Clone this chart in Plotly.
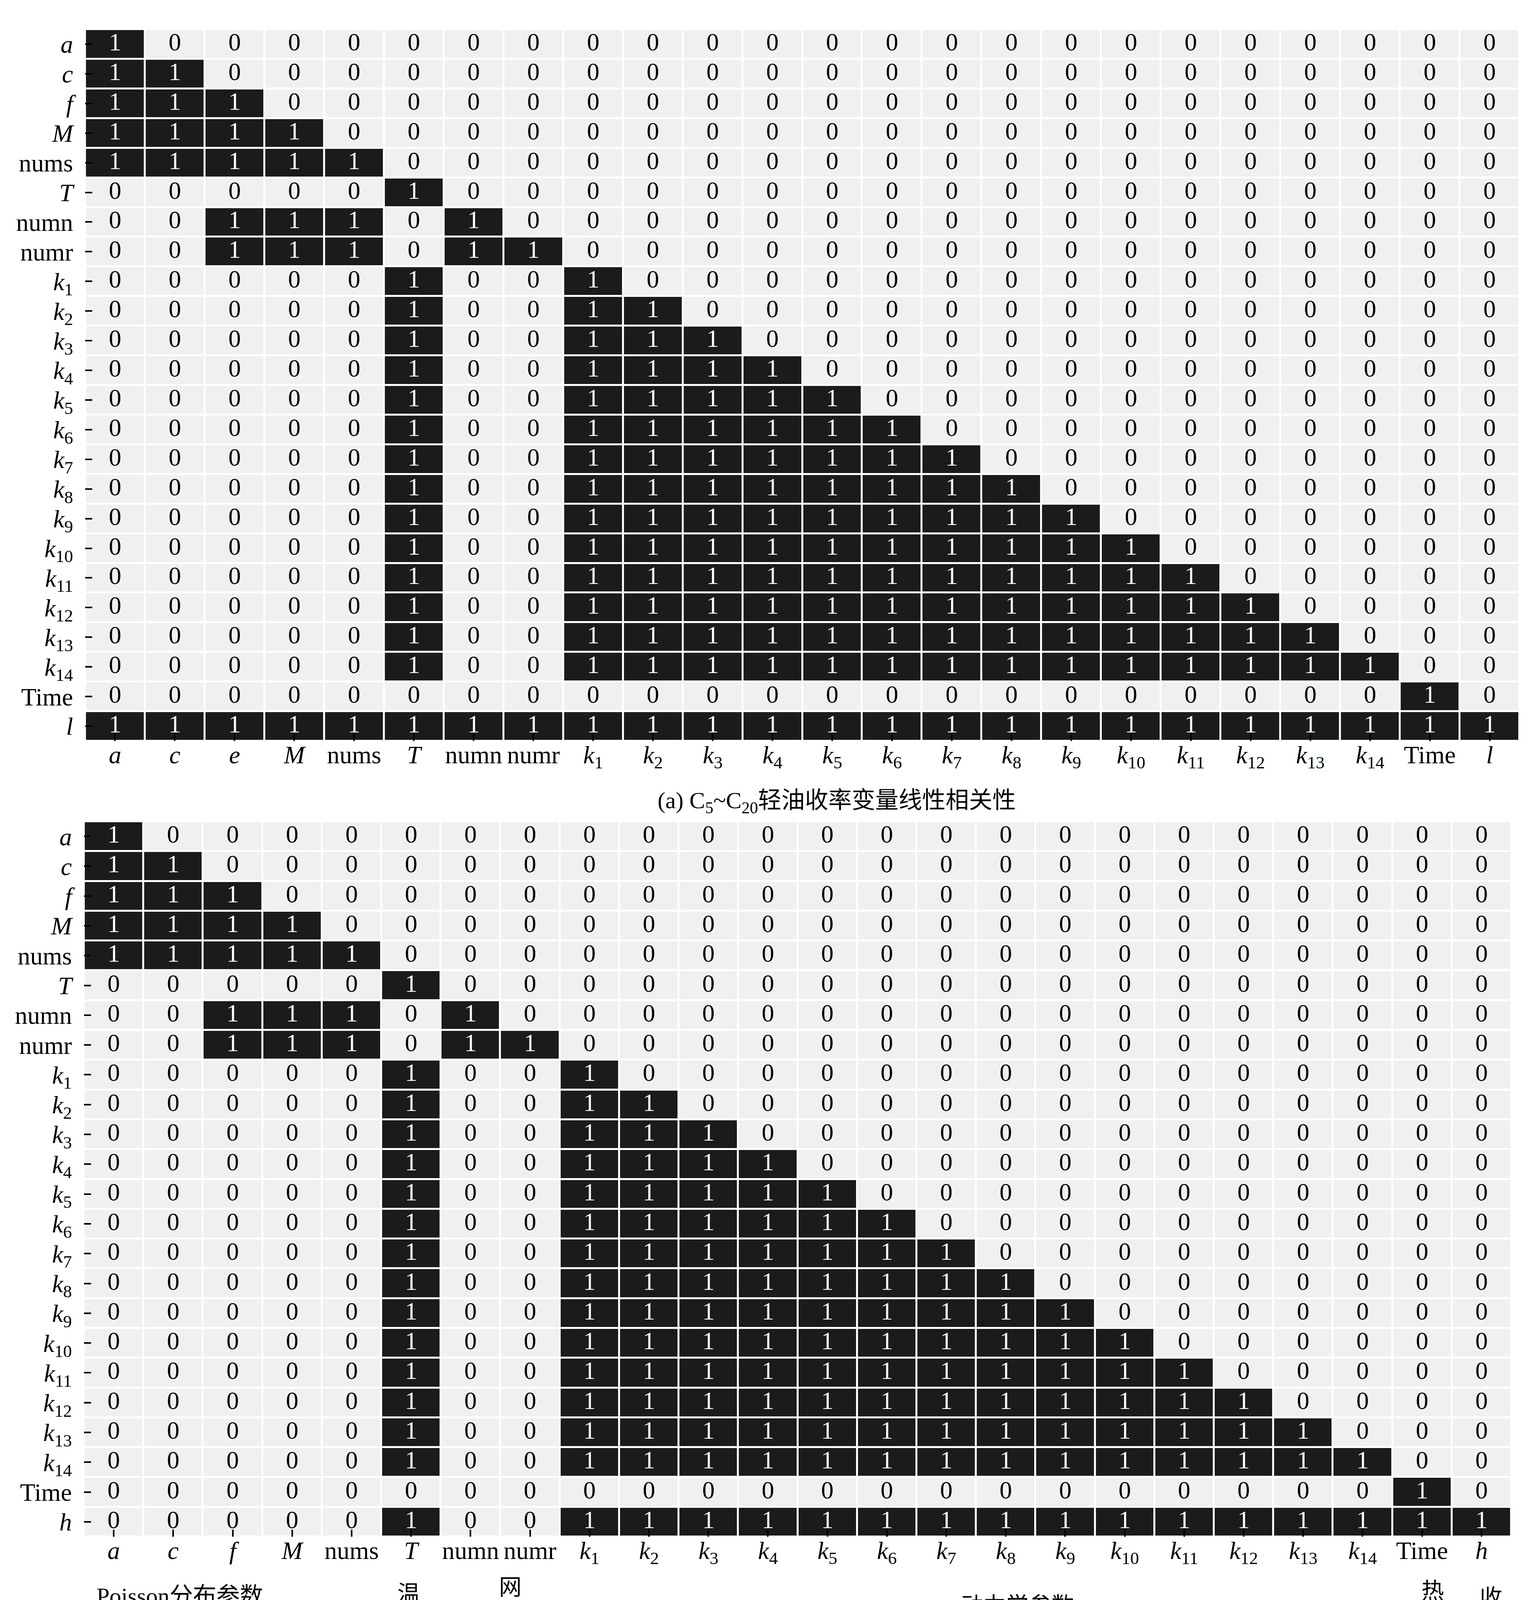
import plotly.graph_objects as go

W, H = 3939, 4416
OFF = 8  # page body margin offset

# ---------------- data ----------------
x_cats_a = ["a", "c", "e", "M", "nums", "T", "numn", "numr",
            "k1", "k2", "k3", "k4", "k5", "k6", "k7", "k8", "k9", "k10",
            "k11", "k12", "k13", "k14", "Time", "l"]
y_cats_a = ["a", "c", "f", "M", "nums", "T", "numn", "numr",
            "k1", "k2", "k3", "k4", "k5", "k6", "k7", "k8", "k9", "k10",
            "k11", "k12", "k13", "k14", "Time", "l"]
x_cats_b = ["a", "c", "f", "M", "nums", "T", "numn", "numr",
            "k1", "k2", "k3", "k4", "k5", "k6", "k7", "k8", "k9", "k10",
            "k11", "k12", "k13", "k14", "Time", "h"]
y_cats_b = ["a", "c", "f", "M", "nums", "T", "numn", "numr",
            "k1", "k2", "k3", "k4", "k5", "k6", "k7", "k8", "k9", "k10",
            "k11", "k12", "k13", "k14", "Time", "h"]

# one string per row (top to bottom), one character per column
rows_a = [
    "100000000000000000000000",  # a
    "110000000000000000000000",  # c
    "111000000000000000000000",  # f
    "111100000000000000000000",  # M
    "111110000000000000000000",  # nums
    "000001000000000000000000",  # T
    "001110100000000000000000",  # numn
    "001110110000000000000000",  # numr
    "000001001000000000000000",  # k1
    "000001001100000000000000",  # k2
    "000001001110000000000000",  # k3
    "000001001111000000000000",  # k4
    "000001001111100000000000",  # k5
    "000001001111110000000000",  # k6
    "000001001111111000000000",  # k7
    "000001001111111100000000",  # k8
    "000001001111111110000000",  # k9
    "000001001111111111000000",  # k10
    "000001001111111111100000",  # k11
    "000001001111111111110000",  # k12
    "000001001111111111111000",  # k13
    "000001001111111111111100",  # k14
    "000000000000000000000010",  # Time
    "111111111111111111111111",  # l
]
rows_b = [
    "100000000000000000000000",  # a
    "110000000000000000000000",  # c
    "111000000000000000000000",  # f
    "111100000000000000000000",  # M
    "111110000000000000000000",  # nums
    "000001000000000000000000",  # T
    "001110100000000000000000",  # numn
    "001110110000000000000000",  # numr
    "000001001000000000000000",  # k1
    "000001001100000000000000",  # k2
    "000001001110000000000000",  # k3
    "000001001111000000000000",  # k4
    "000001001111100000000000",  # k5
    "000001001111110000000000",  # k6
    "000001001111111000000000",  # k7
    "000001001111111100000000",  # k8
    "000001001111111110000000",  # k9
    "000001001111111111000000",  # k10
    "000001001111111111100000",  # k11
    "000001001111111111110000",  # k12
    "000001001111111111111000",  # k13
    "000001001111111111111100",  # k14
    "000000000000000000000010",  # Time
    "000001001111111111111111",  # h
]

caption_a = "(a) C<sub>5</sub>~C<sub>20</sub>轻油收率变量线性相关性"
caption_b = "(b) C<sub>21</sub>~C<sub>60</sub>重油收率变量线性相关性"
group_labels = ["Poisson分布参数", "温<br>度", "网<br>络<br>参<br>数",
                "动力学参数", "热<br>解<br>时<br>间", "收<br>率"]

SERIF = "Liberation Serif, Noto Sans CJK SC"
ITALIC = {"a", "c", "e", "f", "M", "T", "l", "h"}


def fmt(lbl):
    if lbl in ITALIC:
        return "<i>%s</i>" % lbl
    if lbl.startswith("k") and lbl[1:].isdigit():
        return "<i>k</i><sub>%s</sub>" % lbl[1:]
    return lbl


def px_x(p):
    return (p - OFF) / W


def px_y(p):
    return 1 - (p - OFF) / H


fig = go.Figure()


def add_panel(xc, yc, rows, xa, ya):
    z = [[int(ch) for ch in r] for r in rows]
    fig.add_trace(go.Heatmap(
        x=xc, y=yc, z=z, xaxis=xa, yaxis=ya,
        colorscale=[[0, "#f0f0f0"], [1, "#1b1b1b"]], zmin=0, zmax=1,
        showscale=False, xgap=5, ygap=5, hoverinfo="skip"))
    for val, col in ((0, "#000000"), (1, "#ffffff")):
        xs, ys = [], []
        for i, yy in enumerate(yc):
            for j, xx in enumerate(xc):
                if z[i][j] == val:
                    xs.append(xx)
                    ys.append(yy)
        fig.add_trace(go.Scatter(
            x=xs, y=ys, mode="text", text=[str(val)] * len(xs),
            xaxis=xa, yaxis=ya, hoverinfo="skip",
            textfont=dict(family=SERIF, size=64, color=col),
            textposition="middle center"))


add_panel(x_cats_a, y_cats_a, rows_a, "x", "y")
add_panel(x_cats_b, y_cats_b, rows_b, "x2", "y2")

tickfont = dict(family=SERIF, size=64, color="black")
common_x = dict(type="category", showgrid=False, zeroline=False, showline=False,
                ticks="inside", ticklen=18, tickwidth=4, tickcolor="black",
                tickfont=tickfont, ticklabelstandoff=-8)
common_y = dict(type="category", showgrid=False, zeroline=False, showline=False,
                ticks="inside", ticklen=18, tickwidth=4, tickcolor="black",
                tickfont=tickfont, ticklabelstandoff=30)

fig.update_layout(
    width=W, height=H, margin=dict(l=0, r=0, t=0, b=0),
    paper_bgcolor="white", plot_bgcolor="white", showlegend=False,
    xaxis=dict(common_x, domain=[px_x(218), px_x(3889)], anchor="y",
               categoryorder="array", categoryarray=x_cats_a,
               tickvals=x_cats_a, ticktext=[fmt(c) for c in x_cats_a],
               range=[-0.5, 23.5]),
    yaxis=dict(common_y, domain=[px_y(1897), px_y(75)], anchor="x",
               categoryorder="array", categoryarray=y_cats_a,
               tickvals=y_cats_a, ticktext=[fmt(c) for c in y_cats_a],
               range=[23.5, -0.5]),
    xaxis2=dict(common_x, domain=[px_x(215), px_x(3868)], anchor="y2",
                categoryorder="array", categoryarray=x_cats_b,
                tickvals=x_cats_b, ticktext=[fmt(c) for c in x_cats_b],
                range=[-0.5, 23.5]),
    yaxis2=dict(common_y, domain=[px_y(3934), px_y(2103)], anchor="x2",
                categoryorder="array", categoryarray=y_cats_b,
                tickvals=y_cats_b, ticktext=[fmt(c) for c in y_cats_b],
                range=[23.5, -0.5]),
)

annots = [
    (caption_a, 2141, 2053, 60),
    (caption_b, 2022, 4362, 60),
    (group_labels[0], 460, 4086, 60),
    (group_labels[1], 1046, 4118, 58),
    (group_labels[2], 1306, 4176, 58),
    (group_labels[3], 2604, 4110, 58),
    (group_labels[4], 3667, 4186, 58),
    (group_labels[5], 3816, 4128, 58),
]
for txt, x, y, s in annots:
    fig.add_annotation(text=txt, x=px_x(x), y=px_y(y), xref="paper", yref="paper",
                       xanchor="center", yanchor="middle", showarrow=False,
                       font=dict(family=SERIF, size=s, color="black"))

fig.write_html("out.html")
